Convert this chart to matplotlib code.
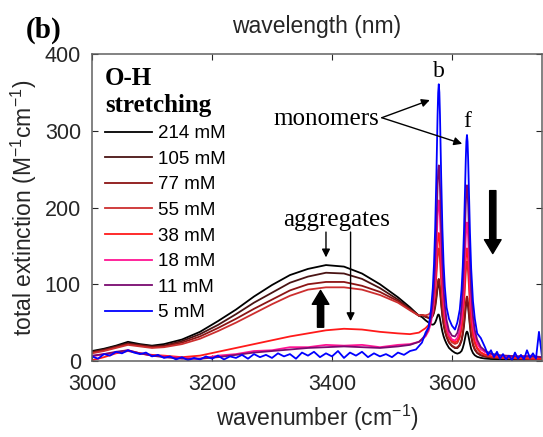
import matplotlib.pyplot as plt

plt.rcParams["font.family"] = "Liberation Sans"
plt.rcParams["font.size"] = 15.5
plt.rcParams["mathtext.fontset"] = "custom"
plt.rcParams["mathtext.rm"] = "Liberation Sans"
plt.rcParams["mathtext.default"] = "regular"
plt.rcParams["axes.linewidth"] = 1.1

serif = "Liberation Serif"

# wavenumber grid (cm-1) shared by the smoother spectra
wn = [3000, 3020, 3040, 3060, 3080, 3100, 3120, 3150, 3180, 3210, 3240, 3270,
      3300, 3330, 3360, 3390, 3420, 3450, 3480, 3510, 3530, 3545,
      3550, 3556, 3561, 3565, 3568, 3570, 3572, 3574, 3576, 3577, 3578, 3579,
      3580, 3582, 3584, 3586, 3588, 3591, 3595, 3600, 3605, 3609, 3613, 3616,
      3618, 3620, 3622, 3623, 3624, 3625, 3626, 3627, 3628, 3630, 3632, 3635,
      3638, 3642, 3648, 3655,
      3665, 3680, 3710, 3730, 3750]

c214 = [13, 16, 20, 25, 22, 20, 22, 28, 38, 52, 67, 84,
        99, 112, 120, 125, 123, 114, 100, 83, 70, 59,
        57.3, 53, 50.1, 47.9, 47.3, 48, 50.1, 54, 58.9, 60.5, 60.5, 58.5,
        55, 46.2, 38.3, 32.3, 27.8, 22.5, 17.1, 13.4, 10.7, 9.6, 10.8, 13.1,
        17, 22.7, 30.5, 34.4, 37.3, 38.4, 37.3, 34.3, 30.4, 22.5, 15.7, 10.4,
        7.5, 5.5, 4.1, 3.2,
        2.6, 2.3, 2, 2, 2]
c105 = [12, 15, 19, 23, 21, 19, 20, 26, 35, 47, 61, 76,
        89, 102, 110, 115, 114, 107, 95, 80, 68, 59,
        59.9, 57.4, 56, 55.9, 58.5, 62.5, 69.9, 81.3, 94.9, 99.7, 100.9, 97.8,
        91.1, 73.7, 58.4, 47.3, 39.4, 31.2, 23.9, 19.4, 16.8, 16.8, 20.3, 26.3,
        34.2, 45.2, 61.3, 69.5, 75.7, 77.9, 75.6, 69.3, 61.1, 44.7, 31.6, 20.5,
        14.6, 10.4, 7.3, 5.7,
        4.5, 3.6, 3.1, 3, 3]
c77 = [11, 14, 18, 22, 20, 18, 19, 24, 32, 43, 55, 68,
       80, 92, 100, 103, 103, 98, 90, 78, 67, 59,
       60.1, 57.9, 56.6, 56.8, 59.9, 64.6, 72.7, 85.3, 100.2, 105.6, 107, 103.7,
       96.5, 77.7, 61.2, 49.4, 40.9, 32.3, 24.6, 20, 17.5, 17.7, 21.5, 28.1,
       36.6, 48.6, 66, 74.9, 81.5, 84, 81.5, 74.7, 65.8, 48.1, 33.9, 22,
       15.6, 11, 7.7, 6,
       4.7, 3.8, 3.2, 3, 3]
c55 = [10, 13, 17, 21, 19, 17, 18, 22, 29, 39, 50, 62,
       74, 85, 93, 96, 96, 93, 86, 76, 66, 59,
       60, 59.5, 60.6, 63.2, 69.3, 77.5, 91, 111.3, 135.3, 144, 146.6, 142.1,
       131.7, 103.9, 79.8, 62.8, 50.9, 39.4, 29.8, 24.4, 22.2, 23.6, 30.3, 41.1,
       54.5, 73.9, 101.3, 115.2, 125.6, 129.5, 125.5, 114.9, 101, 73.2, 51.5, 32.8,
       22.7, 15.6, 10.4, 7.7,
       5.8, 4.4, 3.6, 3.2, 3]
c38 = [1, 5, 10, 13, 10, 8, 7, 5, 7, 12, 17, 22,
       27, 32, 36, 40, 42, 41, 38, 36, 35, 37,
       39.7, 42.8, 46.9, 54.8, 64.9, 77.1, 94.8, 121.5, 151.8, 163.4, 166.8, 162.6,
       150.2, 118.2, 90.7, 70.5, 56.7, 43.4, 32.6, 26.5, 24.3, 26.1, 33.8, 46.3,
       61.5, 83.6, 114.7, 130.5, 142.4, 146.8, 142.3, 130.1, 114.3, 82.8, 58.3, 36.9,
       25.5, 17.4, 11.4, 8.4,
       6.2, 4.8, 4, 3.5, 3]
c18 = [6, 9, 11, 14, 10, 7, 6, 4, 3, 7, 9, 13,
       14, 18, 18, 21, 20, 21, 18, 21, 22, 25,
       27.9, 32.2, 39.2, 50.1, 65.4, 82.4, 108.3, 145.5, 189, 204.2, 209.2, 203.4,
       186.5, 143.4, 105.5, 79.2, 61.6, 45.2, 33.7, 28.2, 26.7, 30.2, 39.6, 56.1,
       74.7, 103, 141.2, 160.6, 175.1, 180.5, 175, 160.1, 140.7, 101.9, 73, 46.8,
       32.8, 22.7, 15.4, 11.6,
       8.5, 6.8, 6, 7, 5]
c11 = [7, 9, 12, 14, 10, 7, 5, 3, 3, 5, 8, 11,
       13, 15, 17, 18, 19, 18, 17, 19, 21, 25,
       28.8, 34.1, 42.7, 56.4, 75.3, 96.3, 128.3, 174.4, 228.3, 248.4, 254.9, 247.6,
       226.9, 173.5, 126.9, 94.5, 73.2, 53.3, 39.5, 33, 31.9, 36.7, 49.1, 70,
       93.8, 130.1, 178.9, 203.6, 222.2, 229, 221.9, 202.9, 178.2, 128.7, 91.7, 58.4,
       40.5, 27.6, 18.3, 13.5,
       9.5, 7.5, 6, 6, 5]

# 5 mM spectrum is noisy, so it has its own finer grid
wn5 = [3000, 3010, 3020, 3030, 3040, 3050, 3060, 3070, 3080, 3090,
       3100, 3110, 3120, 3130, 3140, 3150, 3160, 3170, 3180, 3190,
       3200, 3210, 3220, 3230, 3240, 3250, 3260, 3270, 3280, 3290,
       3300, 3310, 3320, 3330, 3340, 3350, 3360, 3370, 3380, 3390,
       3400, 3410, 3420, 3430, 3440, 3450, 3460, 3470, 3480, 3490,
       3500, 3510, 3520, 3530, 3540,
       3550, 3556, 3561, 3565, 3568, 3570, 3572, 3574, 3576, 3577, 3578, 3579,
       3580, 3582, 3584, 3586, 3588, 3591, 3595, 3600, 3605, 3609, 3613, 3616,
       3618, 3620, 3622, 3623, 3624, 3625, 3626, 3627, 3628, 3630, 3632, 3635,
       3638, 3642, 3648, 3655,
       3660, 3665, 3670, 3675, 3680, 3685, 3690, 3695, 3700,
       3705, 3710, 3715, 3720, 3725, 3730, 3735, 3740, 3745, 3750]
c5 = [6, 3, 9, 7, 12, 10, 14, 11, 9, 11,
      6, 8, 4, 6, 2, 5, 1, 4, 2, 6,
      3, 7, 2, 6, 4, 8, 3, 9, 5, 8,
      4, 10, 6, 9, 3, 11, 7, 12, 5, 10,
      6, 13, 4, 11, 7, 12, 5, 10, 6, 9,
      5, 11, 8, 13, 15,
      24, 37, 44, 66.6, 94.5, 125.5, 172.8, 240.7, 320, 349.6, 360.6, 349.9,
      320.8, 241.1, 173.7, 127.3, 97.2, 69.7, 55, 46, 41, 50.4, 67, 93.4,
      123.6, 169.3, 231.1, 262.4, 285.8, 294.5, 285.5, 261.3, 230, 167.2, 120.5, 78.1,
      55.4, 36, 30, 18,
      8, 14, 5, 12, 3, 9, 2, 7, 1,
      11, 3, 8, 2, 14, 4, 10, 3, 38, 6]

labels = ["214 mM", "105 mM", "77 mM", "55 mM", "38 mM", "18 mM", "11 mM", "5 mM"]
colors = ["#000000", "#4a1414", "#8c1414", "#cd2f2f", "#ff1a1a", "#ff1493",
          "#7a0a70", "#0000ff"]
series = [(wn, c214), (wn, c105), (wn, c77), (wn, c55), (wn, c38), (wn, c18),
          (wn, c11), (wn5, c5)]

fig = plt.figure(figsize=(5.43, 4.37), dpi=100)
ax = fig.add_axes([0.1694, 0.1739, 0.8287, 0.7025])

for (x, y), lab, col in zip(series, labels, colors):
    ax.plot(x, y, color=col, lw=1.3, label=lab)

ax.set_xlim(3000, 3750)
ax.set_ylim(0, 400)
ax.set_xticks([3000, 3200, 3400, 3600])
ax.set_yticks([0, 100, 200, 300, 400])
ax.tick_params(direction="in", length=4, top=True, right=True,
               colors="#262626", labelcolor="#262626")
ax.tick_params(axis="x", pad=9)
ax.tick_params(axis="y", pad=8)
for s in ax.spines.values():
    s.set_color("#606060")

ax.set_xlabel("wavenumber (cm$^{-1}$)", fontsize=16.5, color="#262626", labelpad=6)
ax.set_ylabel("total extinction (M$^{-1}$cm$^{-1}$)", fontsize=16.5,
              color="#262626")
ax.yaxis.set_label_coords(-0.118, 0.5)
ax.set_title("wavelength (nm)", fontsize=16.5, color="#262626", pad=15)

leg = ax.legend(loc="upper left", bbox_to_anchor=(0.0, 1.0), frameon=False,
                fontsize=13.5, title="O-H\nstretching", alignment="left",
                handlelength=2.5, labelspacing=0.45, handletextpad=0.3,
                borderaxespad=0.3)
leg.get_title().set_fontfamily(serif)
leg.get_title().set_fontweight("bold")
leg.get_title().set_fontsize(18)

# annotations
ax.text(3578, 363, "b", family=serif, fontsize=17, ha="center", va="bottom")
ax.text(3625, 299, "f", family=serif, fontsize=17, ha="center", va="bottom")
ax.text(3390, 315, "monomers", family=serif, fontsize=18, ha="center", va="center")
ax.text(3408, 184, "aggregates", family=serif, fontsize=18, ha="center", va="center")

thin = dict(arrowstyle="-|>", color="black", lw=1.0, mutation_scale=12,
            shrinkA=0, shrinkB=0)
ax.annotate("", xy=(3563, 340), xytext=(3483, 317), arrowprops=thin)
ax.annotate("", xy=(3617, 283), xytext=(3483, 317), arrowprops=thin)
ax.annotate("", xy=(3390, 135), xytext=(3390, 168), arrowprops=thin)
ax.annotate("", xy=(3431, 52), xytext=(3431, 168), arrowprops=thin)

fat = dict(arrowstyle="simple,head_width=1.2,head_length=1.0,tail_width=0.45",
           fc="black", ec="black", mutation_scale=10, shrinkA=0, shrinkB=0)
ax.annotate("", xy=(3381, 92), xytext=(3381, 44), arrowprops=fat)
ax.annotate("", xy=(3668, 140), xytext=(3668, 222), arrowprops=fat)

fig.text(0.081, 0.93, "(b)", family=serif, fontsize=21, fontweight="bold",
         ha="center", va="center")

fig.savefig("out.png", dpi=100)
